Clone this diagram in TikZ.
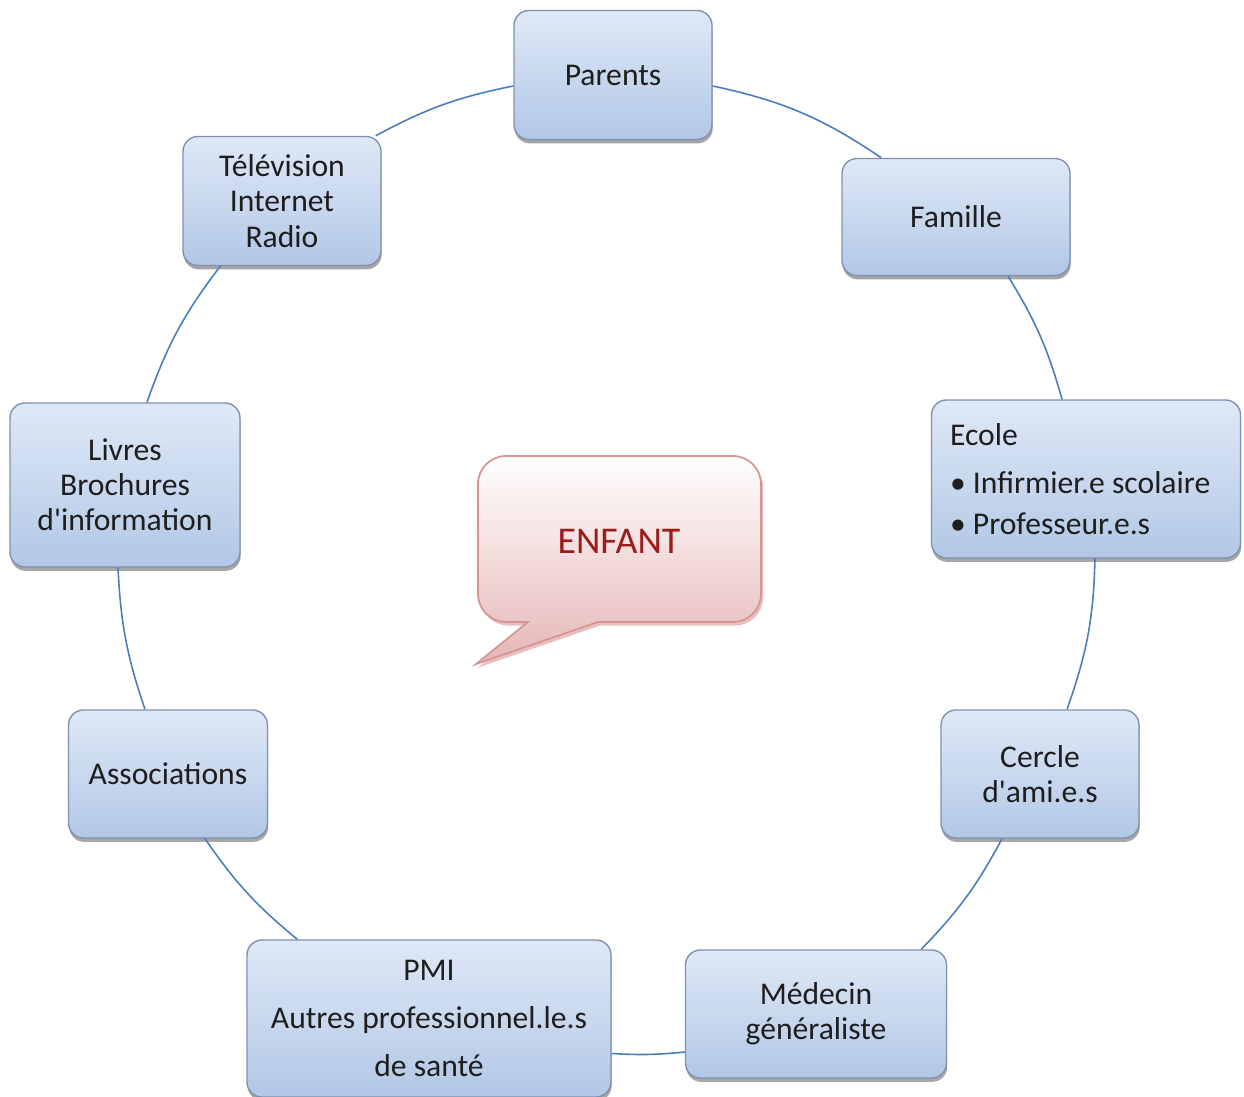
\documentclass[tikz,border=0pt]{standalone}
\usepackage{fontspec}
\setmainfont{Carlito}
\usetikzlibrary{shadows}

\definecolor{boxtop}{HTML}{DFE9F6}
\definecolor{boxbot}{HTML}{B2C7E6}
\definecolor{boxline}{HTML}{7F91AE}
\definecolor{linkcol}{HTML}{4A7EBB}
\definecolor{txtcol}{HTML}{1E1E1E}
\definecolor{calltop}{HTML}{FFFFFF}
\definecolor{callbot}{HTML}{E5B7B6}
\definecolor{callline}{HTML}{D69593}
\definecolor{childred}{HTML}{9E1B1B}

\begin{document}
\begin{tikzpicture}[
        box/.style={draw=boxline,line width=0.8pt,rounded corners=0.3cm,
            top color=boxtop,bottom color=boxbot,text=txtcol,align=center,
            inner sep=2pt,font=\fontsize{18}{20}\selectfont,
            drop shadow={shadow xshift=0.4pt,shadow yshift=-2.2pt,
                fill=black,opacity=0.35}},
        link/.style={draw=linkcol,line width=0.9pt}]
\useasboundingbox (0,0) rectangle (24.88,-21.94);

% speech bubble in the middle
\path[draw=callline,line width=1pt,top color=calltop,bottom color=callbot,
    drop shadow={shadow xshift=1.2pt,shadow yshift=-2pt,fill=callline,opacity=0.6}]
    (10.56,-12.44) -- (10.12,-12.44) arc (270:180:0.56) -- (9.56,-9.68)
    arc (180:90:0.56) -- (14.66,-9.12) arc (90:0:0.56) -- (15.22,-11.88)
    arc (0:-90:0.56) -- (11.96,-12.44) -- (9.52,-13.28) -- cycle;
\node[text=childred,font=\fontsize{21.5}{25}\selectfont] (enfant) at (12.38,-10.82) {ENFANT};

\node[box,minimum width=3.96cm,minimum height=2.58cm] (parents) at (12.26,-1.50) {Parents};
\node[box,minimum width=4.56cm,minimum height=2.34cm] (famille) at (19.12,-4.34) {Famille};
\node[box,minimum width=3.96cm,minimum height=2.58cm] (medias) at (5.64,-4.02)
    {Télévision\\Internet\\Radio};
\node[box,minimum width=6.18cm,minimum height=3.16cm,align=flush left,text width=5.44cm] (ecole)
    at (21.72,-9.58)
    {Ecole\\[7.8pt]• Infirmier.e scolaire\\[3.2pt]• Professeur.e.s};
\node[box,minimum width=4.60cm,minimum height=3.28cm] (livres) at (2.50,-9.70)
    {Livres\\Brochures\\d\textquotesingle information};
\node[box,minimum width=3.96cm,minimum height=2.56cm] (cercle) at (20.80,-15.48)
    {Cercle\\d\textquotesingle ami.e.s};
\node[box,minimum width=3.98cm,minimum height=2.56cm] (assoc) at (3.36,-15.48) {Associations};
\node[box,minimum width=5.22cm,minimum height=2.56cm] (medecin) at (16.32,-20.28)
    {Médecin\\généraliste};
\node[box,minimum width=7.28cm,minimum height=3.14cm] (pmi) at (8.58,-20.37)
    {PMI\\[7.5pt]Autres professionnel.le.s\\[7.5pt]de santé};

\draw[link] ([yshift=-0.7cm]pmi.east) to[bend right=4.5] ([yshift=-0.76cm]medecin.west);
\draw[link] ([xshift=-0.52cm]medecin.north east) to[bend right=8] ([xshift=-0.76cm]cercle.south);
\draw[link] ([xshift=0.54cm]cercle.north) to[bend right=9] ([xshift=0.18cm]ecole.south);
\draw[link] ([xshift=-0.48cm]ecole.north) to[bend right=8] ([xshift=1.04cm]famille.south);
\draw[link] ([xshift=0.8cm]famille.north west) to[bend right=11] ([yshift=-0.22cm]parents.east);
\draw[link] ([yshift=-0.22cm]parents.west) to[bend right=8.5] ([xshift=-0.12cm]medias.north east);
\draw[link] ([xshift=0.76cm]medias.south west) to[bend right=9] ([xshift=0.44cm]livres.north);
\draw[link] ([xshift=-0.14cm]livres.south) to[bend right=8] ([xshift=-0.46cm]assoc.north);
\draw[link] ([xshift=0.74cm]assoc.south) to[bend right=8] ([xshift=1.02cm]pmi.north west);

\end{tikzpicture}
\end{document}
